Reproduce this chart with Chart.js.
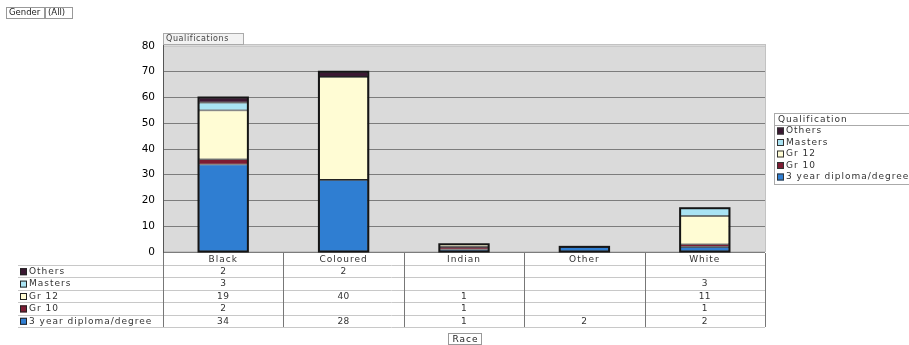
<!DOCTYPE html>
<html>
<head>
<meta charset="utf-8">
<title>Qualifications by Race</title>
<script src="https://cdn.jsdelivr.net/npm/chart.js@4.4.1/dist/chart.umd.min.js"></script>
<style>
  html, body { margin: 0; padding: 0; background: #fff; }
  #wrap { position: relative; width: 909px; height: 345px; }
</style>
</head>
<body>
<div id="wrap"><canvas id="qualChart" width="909" height="345"></canvas></div>
<script>
// ----- Data -----
const categories = ['Black', 'Coloured', 'Indian', 'Other', 'White'];
const diploma = [34, 28, 1, 2, 2];
const gr10 = [2, null, 1, null, 1];
const gr12 = [19, 40, 1, null, 11];
const masters = [3, null, null, null, 3];
const others = [2, 2, null, null, null];
const yTicks = [0, 10, 20, 30, 40, 50, 60, 70, 80];

// series, bottom of stack first
const series = [
  { label: '3 year diploma/degree', data: diploma, color: '#2f7ed2' },
  { label: 'Gr 10', data: gr10, color: '#7d1c33' },
  { label: 'Gr 12', data: gr12, color: '#fffcd4' },
  { label: 'Masters', data: masters, color: '#a9e3f3' },
  { label: 'Others', data: others, color: '#3b1832' }
];

const FONT = 'DejaVu Sans';

function setText(ctx) {
  ctx.font = '9px ' + FONT;
  ctx.letterSpacing = '1px';
  ctx.textBaseline = 'middle';
}

// ----- Extra drawing: plot background, bar outlines, table, legend, captions -----
const extrasPlugin = {
  id: 'extras',
  beforeDraw(chart) {
    const ctx = chart.ctx;
    const a = chart.chartArea;
    ctx.save();
    ctx.fillStyle = '#dadada';
    ctx.fillRect(a.left, a.top - 2, a.right - a.left, a.bottom - a.top + 2);
    ctx.strokeStyle = '#c2c2c2';
    ctx.lineWidth = 1;
    ctx.strokeRect(a.left + 0.5, a.top - 1.5, a.right - a.left, a.bottom - a.top + 1);
    ctx.restore();
  },
  afterDatasetsDraw(chart) {
    // heavier outline around each whole stacked bar
    const ctx = chart.ctx;
    ctx.save();
    ctx.strokeStyle = '#151515';
    ctx.lineWidth = 2;
    categories.forEach((cat, i) => {
      let top = null, base = null, left = null, width = null;
      chart.data.datasets.forEach((ds, d) => {
        if (ds.data[i] === null) return;
        const el = chart.getDatasetMeta(d).data[i];
        if (!el) return;
        top = top === null ? el.y : Math.min(top, el.y);
        base = base === null ? el.base : Math.max(base, el.base);
        left = el.x - el.width / 2;
        width = el.width;
      });
      if (top !== null) ctx.strokeRect(left, top, width, base - top);
    });
    ctx.restore();
  },
  afterDraw(chart) {
    const ctx = chart.ctx;
    const a = chart.chartArea;
    const x = chart.scales.x;
    const step = (a.right - a.left) / categories.length;
    ctx.save();

    // left axis line
    ctx.strokeStyle = '#555';
    ctx.lineWidth = 1;
    ctx.beginPath();
    ctx.moveTo(a.left + 0.5, a.top - 2);
    ctx.lineTo(a.left + 0.5, a.bottom + 1);
    ctx.stroke();

    // "Qualifications" tab
    ctx.fillStyle = '#f2f2f2';
    ctx.fillRect(a.left, a.top - 13, 80, 11);
    ctx.strokeStyle = '#aaa';
    ctx.strokeRect(a.left + 0.5, a.top - 12.5, 80, 11);
    setText(ctx);
    ctx.font = '8px ' + FONT;
    ctx.letterSpacing = '0.6px';
    ctx.fillStyle = '#444';
    ctx.textAlign = 'left';
    ctx.fillText('Qualifications', a.left + 3, a.top - 7);

    // "Gender (All)" filter
    setText(ctx);
    ctx.font = '8.5px ' + FONT;
    ctx.letterSpacing = '0px';
    ctx.strokeStyle = '#999';
    ctx.strokeRect(6.5, 7.5, 38, 11);
    ctx.strokeRect(45.5, 7.5, 27, 11);
    ctx.fillStyle = '#222';
    ctx.fillText('Gender', 9, 13);
    ctx.fillText('(All)', 48, 13);

    // ----- data table under the plot -----
    setText(ctx);
    const tableLeft = 18;
    const headTop = a.bottom + 1;
    const headH = 12;
    const rowH = 12.4;
    const rows = series.slice().reverse();
    const tableBottom = headTop + headH + rowH * rows.length;

    ctx.strokeStyle = '#c8c8c8';
    for (let r = 0; r <= rows.length; r++) {
      const yy = Math.round(headTop + headH + r * rowH) + 0.5;
      ctx.beginPath();
      ctx.moveTo(tableLeft, yy);
      ctx.lineTo(a.left + step * categories.length, yy);
      ctx.stroke();
    }
    ctx.strokeStyle = '#777';
    for (let c = 0; c <= categories.length; c++) {
      const xx = Math.round(a.left + c * step) + 0.5;
      ctx.beginPath();
      ctx.moveTo(xx, headTop);
      ctx.lineTo(xx, tableBottom);
      ctx.stroke();
    }

    ctx.textAlign = 'center';
    ctx.fillStyle = '#333';
    categories.forEach((cat, i) => {
      ctx.fillText(cat, x.getPixelForValue(i), headTop + headH / 2 + 1);
    });

    rows.forEach((s, r) => {
      const cy = headTop + headH + r * rowH + rowH / 2 + 0.5;
      ctx.fillStyle = s.color;
      ctx.fillRect(tableLeft + 2, cy - 3.5, 7, 7);
      ctx.strokeStyle = '#222';
      ctx.strokeRect(tableLeft + 2.5, cy - 3, 6, 6);
      ctx.fillStyle = '#333';
      ctx.textAlign = 'left';
      ctx.fillText(s.label, tableLeft + 11, cy);
      ctx.textAlign = 'center';
      ctx.letterSpacing = '0.4px';
      s.data.forEach((v, i) => {
        if (v !== null) ctx.fillText(String(v), x.getPixelForValue(i), cy);
      });
      ctx.letterSpacing = '1px';
    });

    // "Race" button
    ctx.strokeStyle = '#999';
    ctx.strokeRect(448.5, 333.5, 33, 11);
    ctx.fillStyle = '#222';
    ctx.textAlign = 'center';
    ctx.fillText('Race', 465.5, 339.5);

    // ----- legend box -----
    const lx = 774, ly = 113;
    ctx.fillStyle = '#fff';
    ctx.fillRect(lx, ly, 140, 71);
    ctx.strokeStyle = '#aaa';
    ctx.strokeRect(lx + 0.5, ly + 0.5, 140, 71);
    ctx.beginPath();
    ctx.moveTo(lx, ly + 12.5);
    ctx.lineTo(lx + 140, ly + 12.5);
    ctx.stroke();
    ctx.textAlign = 'left';
    ctx.fillStyle = '#333';
    ctx.fillText('Qualification', lx + 4, ly + 7);
    rows.forEach((s, r) => {
      const cy = ly + 18 + r * 11.5;
      ctx.fillStyle = s.color;
      ctx.fillRect(lx + 3, cy - 3.5, 7, 7);
      ctx.strokeStyle = '#333';
      ctx.strokeRect(lx + 3.5, cy - 3, 6, 6);
      ctx.fillStyle = '#333';
      ctx.fillText(s.label, lx + 12, cy);
    });

    ctx.restore();
  }
};

// ----- Chart -----
const ctx = document.getElementById('qualChart').getContext('2d');
const qualChart = new Chart(ctx, {
  type: 'bar',
  data: {
    labels: categories,
    datasets: series.map(s => ({
      label: s.label,
      data: s.data,
      backgroundColor: s.color,
      borderColor: '#222',
      borderWidth: 0.8,
      borderSkipped: false,
      barPercentage: 0.41,
      categoryPercentage: 1.0
    }))
  },
  options: {
    responsive: false,
    animation: false,
    layout: { padding: { left: 0, top: 46, right: 144, bottom: 93 } },
    plugins: {
      legend: { display: false },
      tooltip: { enabled: false }
    },
    scales: {
      x: {
        stacked: true,
        display: false
      },
      y: {
        stacked: true,
        min: 0,
        max: 80,
        afterBuildTicks: scale => { scale.ticks = yTicks.map(v => ({ value: v })); },
        afterFit: scale => { scale.width = 163; },
        border: { display: false },
        grid: {
          drawTicks: false,
          color: c => (c.tick && c.tick.value === 80 ? '#c8c8c8' : '#7c7c7c'),
          lineWidth: 1
        },
        ticks: {
          padding: 8,
          color: '#000',
          font: { family: FONT, size: 10.5 }
        }
      }
    }
  },
  plugins: [extrasPlugin]
});
</script>
</body>
</html>
